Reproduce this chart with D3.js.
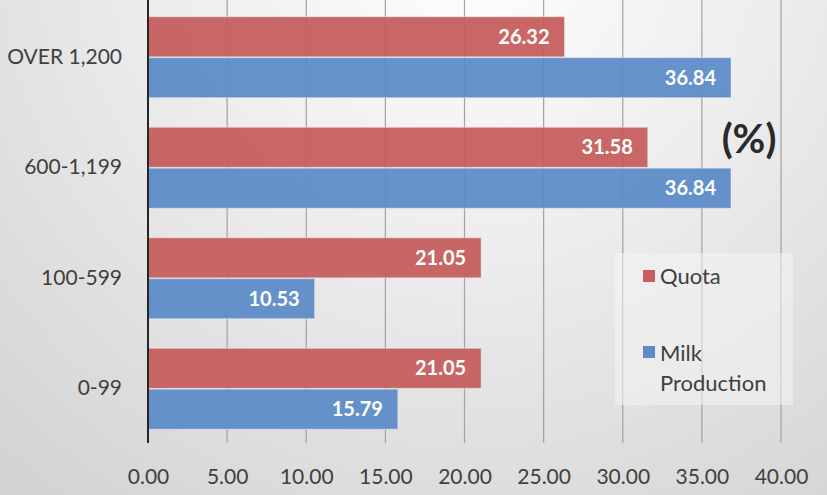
<!DOCTYPE html>
<html><head><meta charset="utf-8">
<script src="https://cdn.jsdelivr.net/npm/d3@7"></script>
<style>html,body{margin:0;padding:0;background:#fff;}svg{display:block;}</style>
</head><body>
<svg id="c" width="827" height="495"></svg>
<script>
const categories = ["OVER 1,200", "600-1,199", "100-599", "0-99"];
const quota = [26.32, 31.58, 21.05, 21.05];
const milk = [36.84, 36.84, 10.53, 15.79];
const seriesNames = ["Quota", "Milk Production"];
const xTicks = [0, 5, 10, 15, 20, 25, 30, 35, 40];

(function () {
const svg = d3.select("#c");
const W = 827, H = 495;
const FONT = "Lato, 'Open Sans', sans-serif";
const defs = svg.append("defs");
const rg = defs.append("radialGradient").attr("id", "bg")
  .attr("gradientUnits", "userSpaceOnUse")
  .attr("cx", 470).attr("cy", -60).attr("r", 720);
rg.append("stop").attr("offset", "0%").attr("stop-color", "#ffffff");
rg.append("stop").attr("offset", "45%").attr("stop-color", "#ececec");
rg.append("stop").attr("offset", "100%").attr("stop-color", "#d2d2d2");
svg.append("rect").attr("width", W).attr("height", H).attr("fill", "url(#bg)");

const mLeft = 148, mRight = 781, mTop = 2, mBottom = 444;
const x = d3.scaleLinear().domain([0, 40]).range([mLeft, mRight]);
const y = d3.scaleBand().domain(categories).range([mTop, mBottom]).paddingInner(0.267).paddingOuter(0.1335);
const sub = d3.scaleBand().domain(seriesNames).range([0, y.bandwidth()]).paddingInner(0.02);
const colors = {"Quota": "#c55f5d", "Milk Production": "#5e8cc8"};

svg.append("g").selectAll("line").data(xTicks.slice(1)).join("line")
  .attr("x1", d => x(d)).attr("x2", d => x(d))
  .attr("y1", 0).attr("y2", 443)
  .attr("stroke", "#a2a2a2").attr("stroke-width", 1.2);

const data = [];
categories.forEach((c, i) => {
  data.push({cat: c, s: "Quota", v: quota[i]});
  data.push({cat: c, s: "Milk Production", v: milk[i]});
});
const g = svg.append("g");
g.selectAll("rect").data(data).join("rect")
  .attr("x", x(0)).attr("y", d => y(d.cat) + sub(d.s))
  .attr("width", d => x(d.v) - x(0)).attr("height", sub.bandwidth())
  .attr("fill", d => colors[d.s]).attr("fill-opacity", 0.95)
  .attr("stroke", "#f2f2f2").attr("stroke-opacity", 0.5).attr("stroke-width", 1);
g.selectAll("text").data(data).join("text")
  .attr("x", d => x(d.v) - 15).attr("y", d => y(d.cat) + sub(d.s) + sub.bandwidth() / 2)
  .attr("dy", "0.36em").attr("text-anchor", "end")
  .attr("font-family", FONT).attr("font-weight", "bold")
  .attr("font-size", 20).attr("fill", "#ffffff")
  .text(d => d.v.toFixed(2));

svg.append("line").attr("x1", mLeft).attr("x2", mLeft).attr("y1", 0).attr("y2", 443)
  .attr("stroke", "#262626").attr("stroke-width", 2);

const xa = svg.append("g").attr("transform", `translate(0,${mBottom})`)
  .call(d3.axisBottom(x).tickValues(xTicks).tickFormat(d => d.toFixed(2)).tickSize(0).tickPadding(25));
xa.select(".domain").remove();
xa.selectAll("text").attr("font-family", FONT)
  .attr("font-size", 21).attr("fill", "#404040");

const ya = svg.append("g").attr("transform", `translate(${mLeft},0)`)
  .call(d3.axisLeft(y).tickSize(0).tickPadding(26));
ya.select(".domain").remove();
ya.selectAll("text").attr("font-family", FONT)
  .attr("font-size", 21).attr("fill", "#404040");

svg.append("text").attr("x", 749).attr("y", 153).attr("text-anchor", "middle")
  .attr("font-family", FONT).attr("font-weight", "bold")
  .attr("font-size", 40).attr("fill", "#2a2a2a").text("(%)");

const lg = svg.append("g");
lg.append("rect").attr("x", 615).attr("y", 253).attr("width", 178).attr("height", 152)
  .attr("fill", "#f4f4f4").attr("fill-opacity", 0.55);
lg.append("rect").attr("x", 643).attr("y", 270).attr("width", 12).attr("height", 12).attr("fill", colors["Quota"]);
lg.append("rect").attr("x", 643).attr("y", 346).attr("width", 12).attr("height", 12).attr("fill", colors["Milk Production"]);
const lt = {"font-family": FONT, "font-size": 22, "fill": "#404040"};
const t1 = lg.append("text").attr("x", 660).attr("y", 284).text("Quota");
const t2 = lg.append("text").attr("x", 660).attr("y", 361).text("Milk");
const t3 = lg.append("text").attr("x", 660).attr("y", 391).text("Production");
[t1, t2, t3].forEach(t => Object.entries(lt).forEach(([k, v]) => t.attr(k, v)));
})();
</script>
</body></html>
